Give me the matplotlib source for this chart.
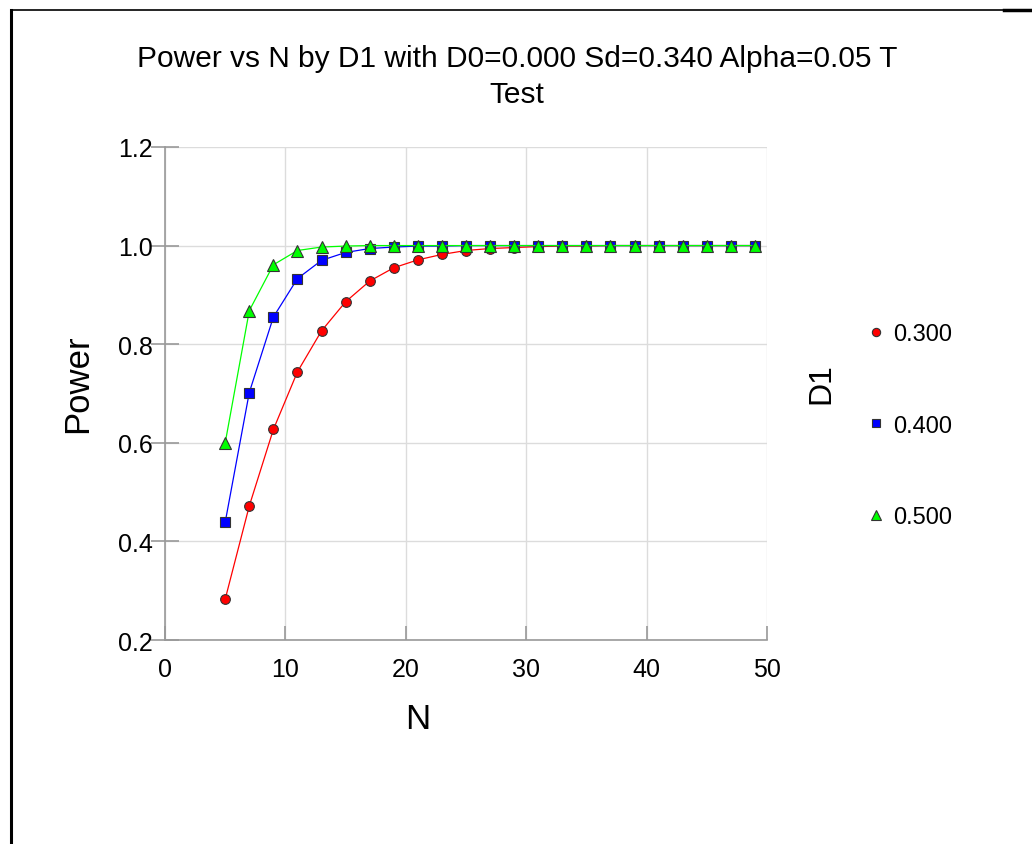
import matplotlib
matplotlib.use("Agg")
import matplotlib.pyplot as plt
from matplotlib.lines import Line2D

plt.rcParams['font.family'] = ['Liberation Sans', 'DejaVu Sans']

# sample sizes
n_values = [5, 7, 9, 11, 13, 15, 17, 19, 21, 23, 25, 27, 29, 31, 33, 35, 37, 39,
            41, 43, 45, 47, 49]

# power for each D1
power_d1_300 = [0.283, 0.472, 0.627, 0.744, 0.827, 0.886, 0.928, 0.955, 0.971,
                0.982, 0.990, 0.994, 0.996, 0.998, 0.999, 0.999, 1.0, 1.0,
                1.0, 1.0, 1.0, 1.0, 1.0]
power_d1_400 = [0.439, 0.702, 0.855, 0.933, 0.970, 0.986, 0.994, 0.997, 0.999,
                0.999, 1.0, 1.0, 1.0, 1.0, 1.0, 1.0, 1.0, 1.0,
                1.0, 1.0, 1.0, 1.0, 1.0]
power_d1_500 = [0.600, 0.868, 0.961, 0.990, 0.997, 0.999, 1.0, 1.0, 1.0,
                1.0, 1.0, 1.0, 1.0, 1.0, 1.0, 1.0, 1.0, 1.0,
                1.0, 1.0, 1.0, 1.0, 1.0]

d1_labels = ['0.300', '0.400', '0.500']

fig = plt.figure(figsize=(10.32, 8.45), dpi=100)
ax = fig.add_axes([0.1599, 0.2414, 0.5833, 0.5835])

series = [
    (power_d1_300, 'red', 'o', 7),
    (power_d1_400, 'blue', 's', 7.5),
    (power_d1_500, '#00ff00', '^', 8.5),
]
for vals, col, mk, ms in series:
    ax.plot(n_values, vals, color=col, lw=0.9, marker=mk, markersize=ms,
            markerfacecolor=col, markeredgecolor='#333333', markeredgewidth=0.8)

ax.set_xlim(0, 50)
ax.set_ylim(0.2, 1.2)
ax.set_xticks([0, 10, 20, 30, 40, 50])
ax.set_yticks([0.2, 0.4, 0.6, 0.8, 1.0, 1.2])
ax.set_yticklabels(['0.2', '0.4', '0.6', '0.8', '1.0', '1.2'])
ax.grid(True, color='#dcdcdc', lw=1)
ax.set_axisbelow(True)

for s in ['top', 'right']:
    ax.spines[s].set_visible(False)
for s in ['left', 'bottom']:
    ax.spines[s].set_color('#999999')
    ax.spines[s].set_linewidth(1.2)

ax.tick_params(axis='y', direction='inout', length=20, width=1.2, color='#999999',
               labelsize=18, pad=-1.5)
ax.tick_params(axis='x', direction='in', length=10, width=1.2, color='#999999',
               labelsize=18, pad=12)

# axis labels sit off-centre in the original
fig.text(0.0751, 0.5456, 'Power', rotation=90, ha='center', va='center', fontsize=25)
fig.text(0.405, 0.1485, 'N', ha='center', va='center', fontsize=25)

fig.text(0.501, 0.930, 'Power vs N by D1 with D0=0.000 Sd=0.340 Alpha=0.05 T',
         ha='center', va='center', fontsize=21.5)
fig.text(0.501, 0.887, 'Test', ha='center', va='center', fontsize=21.5)

# legend
handles = [Line2D([], [], ls='none', marker=mk, markersize=ms * 0.85, markerfacecolor=col,
                  markeredgecolor='#333333', markeredgewidth=0.8)
           for vals, col, mk, ms in series]
leg = fig.legend(handles, d1_labels, loc='center left', bbox_to_anchor=(0.8195, 0.495),
                 frameon=False, fontsize=17, handlelength=0.8, handletextpad=0.3,
                 labelspacing=2.95)
fig.text(0.796, 0.546, 'D1', rotation=90, ha='center', va='center', fontsize=23)

# page frame
fig.add_artist(Line2D([0.0107, 0.0107], [0, 0.987], transform=fig.transFigure,
                      color='black', lw=2.2))
fig.add_artist(Line2D([0.0107, 0.973], [0.987, 0.987], transform=fig.transFigure,
                      color='black', lw=1.2))
fig.add_artist(Line2D([0.973, 1.0], [0.987, 0.987], transform=fig.transFigure,
                      color='black', lw=2.5))

fig.savefig('out.png', dpi=100)
